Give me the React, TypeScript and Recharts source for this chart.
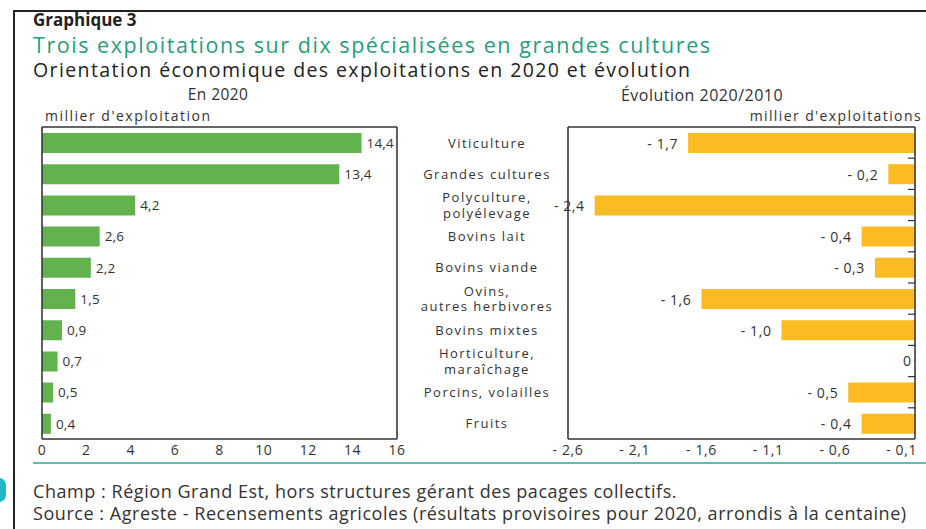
import React from "react"
import { BarChart, Bar, XAxis, YAxis, CartesianGrid, LabelList, ReferenceDot } from "recharts"

// catégories (ordre du graphique, de haut en bas)
const categories = [
  "Viticulture",
  "Grandes cultures",
  "Polyculture,\npolyélevage",
  "Bovins lait",
  "Bovins viande",
  "Ovins,\nautres herbivores",
  "Bovins mixtes",
  "Horticulture,\nmaraîchage",
  "Porcins, volailles",
  "Fruits",
]
// milliers d'exploitations en 2020
const count2020 = [14.4, 13.4, 4.2, 2.6, 2.2, 1.5, 0.9, 0.7, 0.5, 0.4]
// évolution 2020/2010, milliers
const change = [-1.7, -0.2, -2.4, -0.4, -0.3, -1.6, -1.0, 0, -0.5, -0.4]

const leftTicks = [0, 2, 4, 6, 8, 10, 12, 14, 16]
const rightTicks = [-2.6, -2.1, -1.6, -1.1, -0.6, -0.1]

const data = categories.map((c, i) => ({ cat: c, n: count2020[i], d: change[i] }))

const GREEN = "#62b24e"
const ORANGE = "#fbbb22"
const FONT = "'Open Sans', sans-serif"
const TXT = "#333"
const LINE = { stroke: "#333", strokeWidth: 1.5 }

const fr = (v: number) => v.toFixed(1).replace(".", ",")
const chg = (v: number) => (v === 0 ? "0" : "- " + fr(Math.abs(v)))

function CatTick(props: any) {
  const { y, payload } = props
  const lines = String(payload.value).split("\n")
  const lh = 15.5
  const y0 = y - ((lines.length - 1) * lh) / 2
  return (
    <text x={87} y={y0} textAnchor="middle" fontFamily={FONT} fontSize={13} letterSpacing={1.5} fill={TXT} dominantBaseline="central">
      {lines.map((l, i) => (
        <tspan key={i} x={87} y={y0 + i * lh}>
          {l}
        </tspan>
      ))}
    </text>
  )
}

// petits traits entre catégories sur le bord droit
function EdgeTick(props: any) {
  const { y, index } = props
  if (!index) return <g />
  const yy = y - 15.6
  return <line x1={508} x2={515} y1={yy} y2={yy} stroke="#333" strokeWidth={1.2} />
}

function ChangeLabel(props: any) {
  const { x, y, width, height, value } = props
  const left = Math.min(x, x + width)
  return (
    <text x={left - 10} y={y + height / 2} textAnchor="end" dominantBaseline="central" fontFamily={FONT} fontSize={14} letterSpacing={0.6} fill={TXT}>
      {chg(Number(value))}
    </text>
  )
}

export default function App() {
  const abs = (s: React.CSSProperties): React.CSSProperties => ({ position: "absolute", lineHeight: 1, whiteSpace: "nowrap", ...s })
  const tickStyle = { fontFamily: FONT, fontSize: 14, fill: TXT, letterSpacing: 0.6 }
  const zeroIdx = change.findIndex((v) => v === 0)
  return (
    <div style={{ position: "absolute", left: 0, top: 0, width: 926, height: 529, background: "#fff", fontFamily: FONT, color: TXT, overflow: "hidden" }}>
      {/* cadre */}
      <div style={abs({ left: 13, top: 10, width: 913, height: 519, borderTop: "2px solid #222", borderLeft: "2px solid #222" })} />
      <div style={abs({ left: -8, top: 478, width: 14, height: 24, borderRadius: 10, background: "#22b8c8" })} />

      <div style={abs({ left: 33, top: 11, fontSize: 17, fontWeight: 700, color: "#222" })}>Graphique 3</div>
      <div style={abs({ left: 33, top: 34, fontSize: 21.5, letterSpacing: 1.55, color: "#1fa07b" })}>Trois exploitations sur dix spécialisées en grandes cultures</div>
      <div style={abs({ left: 33, top: 60, fontSize: 19.5, letterSpacing: 1.4, color: "#222" })}>Orientation économique des exploitations en 2020 et évolution</div>
      <div style={abs({ left: 218, top: 87, fontSize: 15.5, letterSpacing: 0.4, transform: "translateX(-50%)" })}>En 2020</div>
      <div style={abs({ left: 702, top: 87, fontSize: 16, letterSpacing: 0.5, transform: "translateX(-50%)" })}>Évolution 2020/2010</div>
      <div style={abs({ left: 45, top: 109, fontSize: 14, letterSpacing: 1.5 })}>millier d'exploitation</div>
      <div style={abs({ right: 4, top: 109, fontSize: 14, letterSpacing: 1.4 })}>millier d'exploitations</div>

      {/* En 2020 */}
      <div style={abs({ left: 0, top: 100 })}>
        <BarChart width={420} height={370} data={data} layout="vertical" margin={{ top: 26, right: 22, left: 41, bottom: 1 }} barCategoryGap={0}>
          <CartesianGrid horizontal={false} strokeDasharray="4 4" stroke="#aaa" />
          <XAxis xAxisId="b" type="number" domain={[0, 16]} ticks={leftTicks} height={30} axisLine={LINE} tickLine={false} tickSize={4} tick={tickStyle} />
          <XAxis xAxisId="t" orientation="top" type="number" domain={[0, 16]} height={1} tick={false} tickLine={false} axisLine={LINE} />
          <YAxis yAxisId="c" type="category" dataKey="cat" width={1} interval={0} tick={false} tickLine={false} axisLine={LINE} />
          <YAxis yAxisId="r" orientation="right" type="category" dataKey="cat" width={1} interval={0} tick={false} tickLine={false} axisLine={LINE} />
          <Bar xAxisId="b" yAxisId="c" dataKey="n" fill={GREEN} barSize={20} isAnimationActive={false}>
            <LabelList dataKey="n" position="right" offset={5} formatter={(v: any) => fr(Number(v))} style={{ fontFamily: FONT, fontSize: 13.5, fill: TXT, letterSpacing: 0.2 }} />
          </Bar>
        </BarChart>
      </div>

      {/* Évolution */}
      <div style={abs({ left: 400, top: 100 })}>
        <BarChart width={526} height={370} data={data} layout="vertical" margin={{ top: 26, right: 10, left: 0, bottom: 1 }} barCategoryGap={0}>
          <CartesianGrid horizontal={false} strokeDasharray="4 4" stroke="#aaa" />
          <XAxis xAxisId="b" type="number" domain={[-2.6, 0]} ticks={rightTicks} height={30} axisLine={LINE} tickLine={false} tickSize={4} tickFormatter={(v: number) => chg(v)} tick={tickStyle} />
          <XAxis xAxisId="t" orientation="top" type="number" domain={[-2.6, 0]} height={1} tick={false} tickLine={false} axisLine={LINE} />
          <YAxis yAxisId="c" type="category" dataKey="cat" width={168} interval={0} tick={<CatTick />} tickLine={false} axisLine={LINE} />
          <YAxis yAxisId="r" orientation="right" type="category" dataKey="cat" width={1} interval={0} tick={<EdgeTick />} tickLine={false} axisLine={LINE} />
          <Bar xAxisId="b" yAxisId="c" dataKey="d" fill={ORANGE} barSize={20} isAnimationActive={false}>
            <LabelList dataKey="d" content={<ChangeLabel />} />
          </Bar>
          <ReferenceDot
            xAxisId="b"
            yAxisId="c"
            x={change[zeroIdx]}
            y={categories[zeroIdx]}
            r={0}
            stroke="none"
            fill="none"
            label={{ value: chg(change[zeroIdx]), position: "left", offset: 4, fontFamily: FONT, fontSize: 14, fill: TXT }}
          />
        </BarChart>
      </div>

      <div style={abs({ left: 33, top: 462, width: 893, height: 0, borderTop: "2px solid #55c2b3" })} />
      <div style={abs({ left: 33, top: 482, fontSize: 18, letterSpacing: 0.55 })}>Champ : Région Grand Est, hors structures gérant des pacages collectifs.</div>
      <div style={abs({ left: 33, top: 504, fontSize: 18, letterSpacing: 0.55 })}>Source : Agreste - Recensements agricoles (résultats provisoires pour 2020, arrondis à la centaine)</div>
    </div>
  )
}
